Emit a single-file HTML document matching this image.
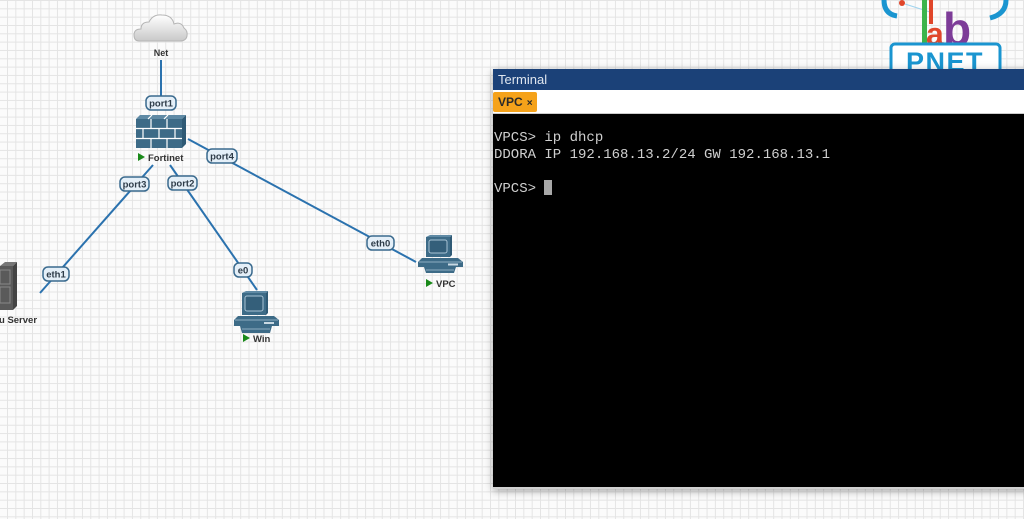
<!DOCTYPE html>
<html><head><meta charset="utf-8"><style>
html,body{margin:0;padding:0}
body{width:1024px;height:519px;overflow:hidden;position:relative;background-color:#fbfbfb;
background-image:linear-gradient(to right,#e4e4e4 1px,transparent 1px),linear-gradient(to bottom,#e4e4e4 1px,transparent 1px);
background-size:8.333px 8.333px;background-position:7px 0px;font-family:"Liberation Sans",sans-serif}
svg{position:absolute;left:0;top:0}
.term{position:absolute;left:493px;top:69px;width:540px;height:418px;background:#000;box-shadow:0 2px 8px rgba(0,0,0,0.35);border-bottom:2px solid #d0d0d0}
.tbar{height:21px;background:#1b4178;color:#dfe6ef;font-size:13px;line-height:21px;padding-left:5px}
.tabs{height:23px;background:#fff;border-bottom:1px solid #ccc;position:relative}
.tab{position:absolute;left:0;top:2px;width:44px;height:20px;background:#f5a21a;border-radius:2px;font-weight:bold;font-size:12px;line-height:20px;color:#2a2a2a;padding-left:5px;box-sizing:border-box}
.tab span{font-size:10px;margin-left:4px}
pre{margin:0;padding:16px 0 0 1px;font-family:"Liberation Mono",monospace;font-size:14px;line-height:16.5px;color:#cfcfcf}
.cur{display:inline-block;width:8px;height:15px;background:#a8a8a8;vertical-align:-3px}
</style></head><body>
<svg width="1024" height="519" viewBox="0 0 1024 519">
<defs>
<linearGradient id="cg" x1="0" y1="0" x2="0" y2="1"><stop offset="0" stop-color="#ffffff"/><stop offset="1" stop-color="#c9c9c9"/></linearGradient>
</defs>
<!-- logo -->
<path d="M884 0 Q884 14 897 16" fill="none" stroke="#1a95d0" stroke-width="5"/>
<path d="M1006 0 Q1006 14 990 18" fill="none" stroke="#1a95d0" stroke-width="5"/>
<line x1="905" y1="4" x2="930" y2="12" stroke="#9fd3ee" stroke-width="1"/>
<circle cx="902" cy="3" r="3" fill="#e0462a"/>
<rect x="922" y="0" width="5" height="45" fill="#3cb44b"/>
<rect x="929" y="0" width="4" height="24" fill="#e0462a"/>
<text x="926" y="45" font-size="32" font-weight="bold" fill="#e0462a" font-family="Liberation Sans">a</text>
<text x="943" y="45" font-size="46" font-weight="bold" fill="#7d3c98" font-family="Liberation Sans">b</text>
<rect x="891" y="44" width="109" height="34" rx="4" fill="#fff" stroke="#1a95d0" stroke-width="3"/>
<text x="945" y="71" text-anchor="middle" font-size="27" font-weight="bold" fill="#1a95d0" font-family="Liberation Sans" letter-spacing="1.5">PNET</text>

<!-- links -->
<g stroke="#2b72ae" stroke-width="2" fill="none">
<line x1="161" y1="60" x2="161" y2="97"/>
<line x1="188" y1="139" x2="416" y2="262"/>
<line x1="153" y1="165" x2="40" y2="293"/>
<line x1="170" y1="165" x2="257" y2="290"/>
</g>

<!-- cloud -->
<path d="M139 41 Q134 41 134 35 Q134 29 141 29 Q141 22 149 22 Q153 14 162 15 Q172 15 174 24 Q181 21 184 28 Q188 31 187 36 Q186 41 180 41 Z" fill="url(#cg)" stroke="#b5b5b5" stroke-width="1"/>
<text x="161" y="56" text-anchor="middle" font-size="9" font-weight="bold" fill="#333">Net</text>

<!-- firewall -->
<g>
<polygon points="136,119 140,115 186,115 182,119" fill="#5f8aa5"/>
<polygon points="182,119 186,115 186,144 182,148" fill="#2f5a75"/>
<rect x="136" y="119" width="46" height="29" fill="#3d6b87"/>
<g stroke="#ffffff" stroke-width="1.2">
<line x1="136" y1="128.5" x2="182" y2="128.5"/>
<line x1="136" y1="138.5" x2="182" y2="138.5"/>
<line x1="151" y1="119" x2="151" y2="128"/>
<line x1="167" y1="119" x2="167" y2="128"/>
<line x1="143" y1="129" x2="143" y2="138"/>
<line x1="159" y1="129" x2="159" y2="138"/>
<line x1="175" y1="129" x2="175" y2="138"/>
<line x1="151" y1="139" x2="151" y2="148"/>
<line x1="167" y1="139" x2="167" y2="148"/>
<line x1="152" y1="115" x2="148" y2="119"/>
<line x1="168" y1="115" x2="164" y2="119"/>
</g>
</g>
<polygon points="138,153 138,161 145,157" fill="#1a8a1a"/>
<text x="148" y="161" font-size="9.5" font-weight="bold" fill="#333">Fortinet</text>

<!-- server -->
<polygon points="0,266 5,262 17,262 13,266" fill="#777"/>
<polygon points="13,266 17,262 17,306 13,310" fill="#444"/>
<rect x="0" y="266" width="13" height="44" fill="#5a5a5a"/>
<rect x="0" y="270" width="10" height="14" fill="none" stroke="#888" stroke-width="1"/>
<rect x="0" y="287" width="10" height="16" fill="none" stroke="#888" stroke-width="1"/>
<text x="-1" y="323" font-size="9.5" font-weight="bold" fill="#333">u Server</text>

<g transform="translate(234,291)">
<polygon points="8,2 12,0 34,0 32,2" fill="#5f8aa5"/>
<polygon points="32,2 34,0 34,22 32,24" fill="#2f5a75"/>
<rect x="8" y="2" width="24" height="22" fill="#3d6b87"/>
<rect x="11" y="5" width="18" height="15" rx="2" fill="#345f7a" stroke="#a8c3d4" stroke-width="1"/>
<polygon points="4,25 40,25 45,29 45,35 0,35 0,29" fill="#3d6b87"/>
<line x1="1" y1="29" x2="44" y2="29" stroke="#a8c3d4" stroke-width="0.8"/>
<rect x="30" y="31" width="10" height="2" fill="#c9d9e3"/>
<polygon points="6,35 38,35 36,42 8,42" fill="#3d6b87"/>
<line x1="8" y1="38" x2="36" y2="38" stroke="#a8c3d4" stroke-width="0.8"/>
</g>
<polygon points="243,334 243,342 250,338" fill="#1a8a1a"/>
<text x="253" y="342" font-size="9.5" font-weight="bold" fill="#333">Win</text>

<g transform="translate(418,235)">
<polygon points="8,2 12,0 34,0 32,2" fill="#5f8aa5"/>
<polygon points="32,2 34,0 34,20 32,22" fill="#2f5a75"/>
<rect x="8" y="2" width="24" height="20" fill="#3d6b87"/>
<rect x="11" y="5" width="18" height="13" rx="2" fill="#345f7a" stroke="#a8c3d4" stroke-width="1"/>
<polygon points="4,23 40,23 45,27 45,32 0,32 0,27" fill="#3d6b87"/>
<line x1="1" y1="27" x2="44" y2="27" stroke="#a8c3d4" stroke-width="0.8"/>
<rect x="30" y="28.5" width="10" height="2" fill="#c9d9e3"/>
<polygon points="6,32 38,32 36,38 8,38" fill="#3d6b87"/>
<line x1="8" y1="35" x2="36" y2="35" stroke="#a8c3d4" stroke-width="0.8"/>
</g>
<polygon points="426,279 426,287 433,283" fill="#1a8a1a"/>
<text x="436" y="287" font-size="9.5" font-weight="bold" fill="#333">VPC</text>

<!-- labels -->
<g font-size="9.5" font-weight="bold" fill="#2d3b48" text-anchor="middle">
<rect x="146" y="96" width="30" height="14" rx="5" fill="#e4eff8" stroke="#3a6a8e" stroke-width="1.5"/>
<text x="161" y="106.5">port1</text>
<rect x="207" y="149" width="30" height="14" rx="5" fill="#e4eff8" stroke="#3a6a8e" stroke-width="1.5"/>
<text x="222" y="159.5">port4</text>
<rect x="120" y="177" width="29" height="14" rx="5" fill="#e4eff8" stroke="#3a6a8e" stroke-width="1.5"/>
<text x="134.5" y="187.5">port3</text>
<rect x="168" y="176" width="29" height="14" rx="5" fill="#e4eff8" stroke="#3a6a8e" stroke-width="1.5"/>
<text x="182.5" y="186.5">port2</text>
<rect x="367" y="236" width="27" height="14" rx="5" fill="#e4eff8" stroke="#3a6a8e" stroke-width="1.5"/>
<text x="380.5" y="246.5">eth0</text>
<rect x="43" y="267" width="26" height="14" rx="5" fill="#e4eff8" stroke="#3a6a8e" stroke-width="1.5"/>
<text x="56" y="277.5">eth1</text>
<rect x="234" y="263" width="18" height="14" rx="5" fill="#e4eff8" stroke="#3a6a8e" stroke-width="1.5"/>
<text x="243" y="273.5">e0</text>
</g>
</svg>

<div class="term">
<div class="tbar">Terminal</div>
<div class="tabs"><div class="tab">VPC<span>×</span></div></div>
<pre>VPCS&gt; ip dhcp
DDORA IP 192.168.13.2/24 GW 192.168.13.1

VPCS&gt; <span class="cur"></span></pre>
</div>
</body></html>
